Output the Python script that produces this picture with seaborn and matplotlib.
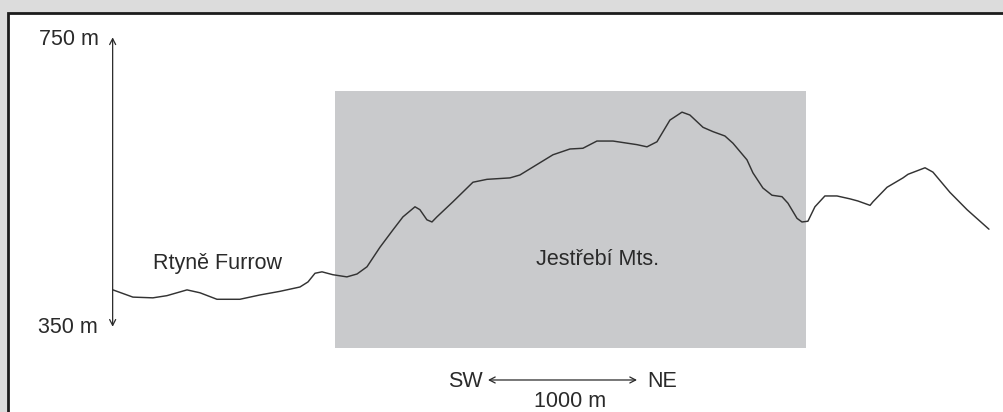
import matplotlib
matplotlib.use("Agg")
import matplotlib.pyplot as plt
from matplotlib.patches import Rectangle
import numpy as np
import pandas as pd
import seaborn as sns

# Topographic profile SW -> NE (distance along profile in m, elevation in m a.s.l.)
distance_m = [0, 134, 268, 362, 497, 584, 698, 852, 987, 1121, 1255, 1309, 1356,
              1403, 1476, 1570, 1638, 1705, 1792, 1879, 1946, 2027, 2060, 2107,
              2141, 2174, 2282, 2416, 2510, 2664, 2731, 2953, 3067, 3154, 3248,
              3356, 3517, 3584, 3651, 3738, 3819, 3872, 3960, 4027, 4107, 4161,
              4255, 4295, 4362, 4423, 4490, 4530, 4591, 4624, 4664, 4711, 4778,
              4859, 4946, 5000, 5081, 5101, 5195, 5302, 5336, 5450, 5503, 5617,
              5732, 5879]
elevation_m = [400, 390, 389, 392, 400, 396, 387, 387, 393, 398, 404, 411, 423,
               425, 421, 418, 422, 432, 459, 483, 501, 515, 511, 497,
               494, 501, 522, 549, 553, 555, 559, 587, 595, 596, 606,
               606, 601, 598, 605, 635, 646, 642, 625, 619, 613, 603,
               580, 562, 541, 531, 529, 520, 499, 494, 495, 515, 530,
               530, 526, 523, 517, 522, 542, 555, 560, 569, 563, 535,
               511, 484]

# Extent of the Jestřebí Mts. block
range_start_m, range_end_m = 1490, 4650
range_low_m, range_high_m = 320, 675

# Vertical and horizontal scale bars
elev_scale = [350, 750]
elev_labels = ["350 m", "750 m"]
dist_scale = [2517, 3517]
dist_label = "1000 m"
directions = ["SW", "NE"]

sns.set_theme(style="white")
plt.rcParams["font.family"] = ["Liberation Sans", "DejaVu Sans"]

ink = "#2a2a2a"
fs = 15.5

fig = plt.figure(figsize=(10.04, 4.12), dpi=100)
fig.patch.set_facecolor("#dcdcdc")

ax = fig.add_axes([0, 0, 1, 1])
ax.patch.set_alpha(0)
ax.set_xlim(-758, 5980)
ax.set_ylim(231, 801.2)
ax.axis("off")

# white panel with dark frame (runs past the right and bottom edges)
frame = Rectangle((8.5 / 1004, -0.2), 1.5, (412 - 13) / 412 + 0.2,
                  transform=fig.transFigure, facecolor="white",
                  edgecolor="#1c1c1c", linewidth=2.0, zorder=0, clip_on=False)
ax.add_patch(frame)

ax.add_patch(Rectangle((range_start_m, range_low_m), range_end_m - range_start_m,
                       range_high_m - range_low_m, facecolor="#c9cacc",
                       edgecolor="none", zorder=1))

profile = pd.DataFrame({"distance": distance_m, "elevation": elevation_m})
sns.lineplot(data=profile, x="distance", y="elevation", ax=ax, color="#333333",
             linewidth=1.05, sort=False, estimator=None, zorder=3)
for ln in ax.lines:
    ln.set_solid_joinstyle("round")
    ln.set_solid_capstyle("round")

arrow_style = "<->,head_length=0.35,head_width=0.18"
ax.annotate("", xy=(-2, elev_scale[1] - 0.5), xytext=(-2, elev_scale[0] - 1),
            arrowprops=dict(arrowstyle=arrow_style, color=ink, lw=0.9,
                            shrinkA=0, shrinkB=0), zorder=4)
ax.text(-94, 739, elev_labels[1], ha="right", va="baseline", fontsize=fs, color=ink, zorder=4)
ax.text(-101, 340, elev_labels[0], ha="right", va="baseline", fontsize=fs, color=ink, zorder=4)

ax.text(705, 429, "Rtyně Furrow", ha="center", va="baseline", fontsize=fs, color=ink, zorder=4)
ax.text(3255, 434, "Jestřebí Mts.", ha="center", va="baseline", fontsize=fs, color=ink, zorder=4)

y_bar = 275.3
ax.annotate("", xy=(dist_scale[1], y_bar), xytext=(dist_scale[0], y_bar),
            arrowprops=dict(arrowstyle=arrow_style, color=ink, lw=0.9,
                            shrinkA=0, shrinkB=0), zorder=4)
ax.text(2483, 265.6, directions[0], ha="right", va="baseline", fontsize=fs, color=ink, zorder=4)
ax.text(3584, 265.6, directions[1], ha="left", va="baseline", fontsize=fs, color=ink, zorder=4)
ax.text(3067, 237.5, dist_label, ha="center", va="baseline", fontsize=fs, color=ink, zorder=4)

fig.savefig("out.png", dpi=100, facecolor=fig.get_facecolor())
